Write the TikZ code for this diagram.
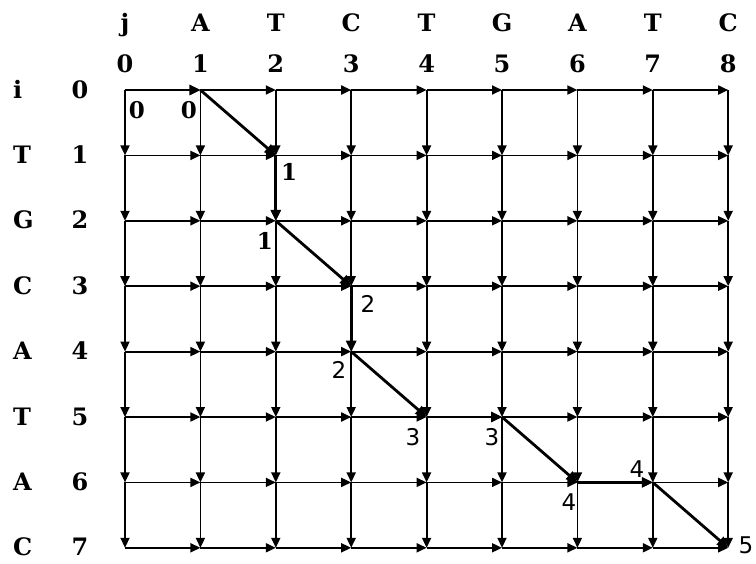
\documentclass[tikz,border=0pt]{standalone}
\usepackage{fontspec}
\setmainfont{DejaVu Serif}
\newfontfamily\lblsans{DejaVu Sans}
\usetikzlibrary{arrows.meta}
\newcommand\myhdrfont{\fontsize{24}{24}\selectfont\bfseries}
\newcommand\myscrfont{\fontsize{23}{23}\selectfont\bfseries}
\newcommand\myscrsfont{\lblsans\fontsize{23}{23}\selectfont}
\tikzset{
  edge/.style={line width=1.8pt,-{Triangle[length=10pt,width=9pt]}},
  pathedge/.style={line width=2.8pt,-{Triangle[length=11pt,width=10pt]}},
  hdr/.style={inner sep=0pt},
  scorelbl/.style={inner sep=0pt}
}
\begin{document}
\begin{tikzpicture}[x=1pt,y=-1pt]
\useasboundingbox (0,0) rectangle (756,563);
\foreach \i in {0,...,7}{
  \foreach \j in {0,...,8}{
    \coordinate (n\i\j) at ({125+75.4*\j},{90+65.4*\i});
  }
}
% column headers
\foreach \j/\c in {0/j,1/A,2/T,3/C,4/T,5/G,6/A,7/T,8/C}{
  \node[hdr,anchor=base] (h\j) at ({125+75.4*\j},31) {\myhdrfont\c};
  \node[hdr,anchor=base] (hn\j) at ({125+75.4*\j},72) {\myhdrfont\j};
}
% row headers
\foreach \i/\c in {0/i,1/T,2/G,3/C,4/A,5/T,6/A,7/C}{
  \node[hdr,anchor=base west] (r\i) at (13,{98+65.4*\i}) {\myhdrfont\c};
  \node[hdr,anchor=base] (rn\i) at (80,{98+65.4*\i}) {\myhdrfont\i};
}
% horizontal edges
\foreach \i in {0,...,7}{
  \foreach \j in {0,...,7}{
    \pgfmathtruncatemacro{\jj}{\j+1}
    \draw[edge] (n\i\j) -- (n\i\jj);
  }
}
% vertical edges
\foreach \i in {0,...,6}{
  \foreach \j in {0,...,8}{
    \pgfmathtruncatemacro{\ii}{\i+1}
    \draw[edge] (n\i\j) -- (n\ii\j);
  }
}
% optimal path
\draw[pathedge] (n00) -- (n01);
\draw[pathedge] (n01) -- (n12);
\draw[pathedge] (n12) -- (n22);
\draw[pathedge] (n22) -- (n33);
\draw[pathedge] (n33) -- (n43);
\draw[pathedge] (n43) -- (n54);
\draw[pathedge] (n54) -- (n55);
\draw[pathedge] (n55) -- (n66);
\draw[pathedge] (n66) -- (n67);
\draw[pathedge] (n67) -- (n78);
% scores
\node[scorelbl] (s1) at (137,110) {\myscrfont 0};
\node[scorelbl] (s2) at (189,110) {\myscrfont 0};
\node[scorelbl] (s3) at (289,172) {\myscrfont 1};
\node[scorelbl] (s4) at (265,241) {\myscrfont 1};
\node[scorelbl] (s5) at (368,304) {\myscrsfont 2};
\node[scorelbl] (s6) at (339,370) {\myscrsfont 2};
\node[scorelbl] (s7) at (413,437) {\myscrsfont 3};
\node[scorelbl] (s8) at (492,437) {\myscrsfont 3};
\node[scorelbl] (s9) at (569,502) {\myscrsfont 4};
\node[scorelbl] (s10) at (637,469) {\myscrsfont 4};
\node[scorelbl] (s11) at (746,545) {\myscrsfont 5};
\end{tikzpicture}
\end{document}
